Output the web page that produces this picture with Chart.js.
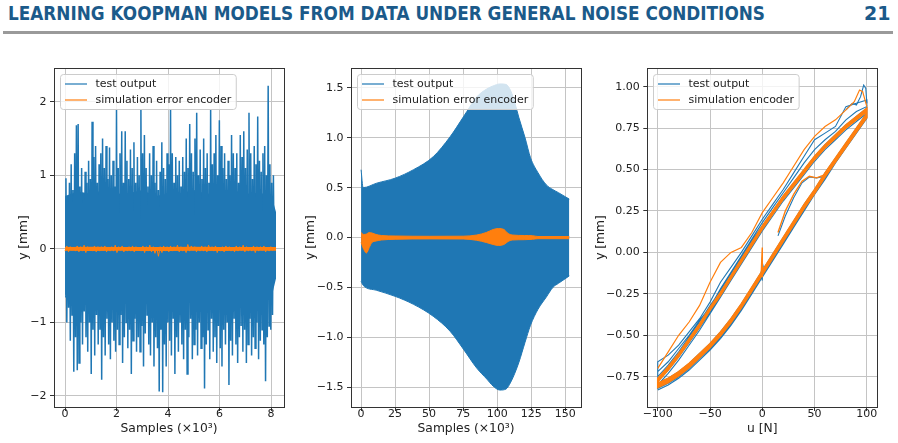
<!DOCTYPE html>
<html>
<head>
<meta charset="utf-8">
<script src="https://cdn.jsdelivr.net/npm/chart.js@4.4.0/dist/chart.umd.min.js"></script>
<style>
    html, body { margin: 0; padding: 0; background: #fff; }
    body { width: 898px; height: 443px; position: relative; overflow: hidden; }
    #head { position: absolute; left: 8px; top: 2px; font: bold 19px "DejaVu Sans", sans-serif; color: #1b5a8a; white-space: nowrap; transform-origin: 0 0; }
    #pageNo { position: absolute; left: 864px; top: 2px; font: bold 19px "DejaVu Sans", sans-serif; color: #1b5a8a; }
    #rule { position: absolute; left: 3px; top: 31px; width: 890px; height: 3px; background: #9a9a9a; }
    canvas { position: absolute; top: 50px; }
</style>
</head>
<body>
<div id="head">LEARNING KOOPMAN MODELS FROM DATA UNDER GENERAL NOISE CONDITIONS</div>
<div id="pageNo">21</div>
<div id="rule"></div>
<canvas id="c1" width="292" height="393" style="left:0px"></canvas>
<canvas id="c2" width="298" height="393" style="left:292px"></canvas>
<canvas id="c3" width="308" height="393" style="left:590px"></canvas>
<script>
// ---------- data: plot 1 (random excitation, samples x10^3) ----------
const p1Length = 8.19;
// dense part of the band (solid blue)
const p1CoreX = [0, 0.5, 1, 1.5, 2, 2.5, 3, 3.5, 4, 4.5, 5, 5.5, 6, 6.5, 7, 7.5, 8, 8.19];
const p1CoreUpper = [0.72, 0.78, 0.75, 0.8, 0.75, 0.76, 0.8, 0.72, 0.75, 0.76, 0.8, 0.75, 0.76, 0.8, 0.75, 0.76, 0.74, 0.5];
const p1CoreLower = [-0.62, -0.7, -0.68, -0.72, -0.68, -0.7, -0.68, -0.72, -0.69, -0.68, -0.72, -0.69, -0.7, -0.68, -0.72, -0.69, -0.68, -0.4];
// individual peaks sticking out of the band
const p1Upper = [
    0.96, 0.7, 0.9, 1.15, 0.8, 1.3, 1.68, 1.7, 0.85, 1.1,
    0.75, 1.05, 0.9, 1.2, 0.95, 1.73, 1.25, 1.4, 0.9, 1.15,
    1.3, 1.5, 1.1, 1.4, 0.95, 1.38, 1.0, 1.2, 0.85, 1.89,
    1.1, 1.3, 1.6, 0.9, 1.6, 1.2, 0.95, 1.35, 1.1, 1.45,
    0.9, 1.25, 1.0, 1.9, 1.3, 1.55, 1.1, 0.85, 1.3, 1.0,
    1.4, 0.9, 1.2, 0.8, 1.05, 1.45, 1.1, 0.95, 1.3, 1.15,
    1.9, 1.3, 0.9, 1.25, 1.0, 1.2, 0.85, 1.25, 1.05, 1.5,
    1.1, 1.7, 1.3, 1.05, 1.5, 1.85, 1.0, 1.35, 0.95, 1.5,
    1.1, 1.3, 0.9, 1.9, 1.15, 1.3, 1.55, 1.0, 1.75, 1.4,
    1.1, 1.3, 0.95, 1.2, 1.0, 1.55, 1.3, 1.1, 1.3, 0.9,
    1.55, 1.25, 1.6, 1.1, 1.35, 1.85, 1.3, 0.95, 1.4, 1.15,
    1.8, 1.2, 1.05, 1.3, 1.4, 1.0, 2.22, 1.15, 0.9, 1.0,
    0.5,
];
const p1Lower = [
    -0.65, -1.0, -0.8, -1.25, -0.9, -1.67, -1.2, -1.65, -1.55, -1.0,
    -1.3, -0.85, -1.2, -1.4, -1.0, -1.7, -1.1, -1.45, -0.9, -1.3,
    -1.1, -1.78, -1.2, -1.45, -0.95, -1.3, -1.5, -1.0, -1.25, -1.4,
    -1.1, -1.3, -0.9, -1.55, -1.2, -1.0, -1.35, -1.1, -1.7, -1.25,
    -0.95, -1.4, -1.2, -1.4, -1.05, -1.6, -1.15, -0.9, -1.3, -1.45,
    -1.0, -1.6, -1.2, -1.35, -1.94, -1.1, -1.95, -1.3, -1.6, -1.0,
    -1.25, -1.45, -0.95, -1.7, -1.2, -1.4, -1.0, -1.3, -1.5, -1.1,
    -1.7, -1.2, -0.95, -1.5, -1.3, -1.1, -1.45, -1.0, -1.35, -1.2,
    -1.9, -1.3, -1.1, -1.5, -0.95, -1.4, -1.2, -1.55, -1.05, -1.35,
    -1.6, -1.1, -1.3, -1.0, -1.85, -1.25, -1.45, -0.95, -1.3, -1.55,
    -1.2, -1.05, -1.4, -1.1, -1.55, -1.3, -0.95, -1.45, -1.2, -1.35,
    -1.0, -1.5, -1.25, -1.1, -1.3, -1.8, -1.2, -1.05, -1.1, -0.9,
    -0.4,
];
// encoder error: solid core plus small excursions
const p1ErrCoreX = [0, 1, 2, 3, 4, 5, 6, 7, 8.19];
const p1ErrCoreUpper = [0.025, 0.028, 0.025, 0.027, 0.025, 0.028, 0.026, 0.027, 0.025];
const p1ErrCoreLower = [-0.025, -0.027, -0.026, -0.027, -0.028, -0.026, -0.027, -0.026, -0.025];
const p1ErrUpper = [
    0.04, 0.03, 0.02, 0.04, 0.03, 0.05, 0.03, 0.02, 0.04, 0.03,
    0.03, 0.04, 0.02, 0.03, 0.05, 0.03, 0.04, 0.02, 0.03, 0.04,
    0.03, 0.02, 0.04, 0.03, 0.05, 0.03, 0.02, 0.03, 0.04, 0.03,
    0.04, 0.03, 0.05, 0.03, 0.02, 0.06, 0.04, 0.03, 0.02, 0.04,
    0.03, 0.05, 0.03, 0.04, 0.02, 0.03, 0.04, 0.03, 0.02, 0.04,
    0.03, 0.05, 0.03, 0.02, 0.04, 0.03, 0.03, 0.04, 0.02, 0.03,
    0.02,
];
const p1ErrLower = [
    -0.03, -0.04, -0.02, -0.03, -0.04, -0.03, -0.05, -0.02, -0.03, -0.04,
    -0.03, -0.02, -0.04, -0.03, -0.03, -0.05, -0.02, -0.04, -0.03, -0.03,
    -0.04, -0.02, -0.03, -0.05, -0.03, -0.04, -0.06, -0.1, -0.05, -0.03,
    -0.04, -0.03, -0.02, -0.04, -0.03, -0.05, -0.03, -0.02, -0.04, -0.03,
    -0.03, -0.04, -0.02, -0.03, -0.05, -0.03, -0.04, -0.02, -0.03, -0.04,
    -0.03, -0.02, -0.04, -0.03, -0.03, -0.05, -0.03, -0.02, -0.04, -0.03,
    -0.02,
];
const p1XTicks = [0, 2, 4, 6, 8];
const p1XLabels = ["0", "2", "4", "6", "8"];
const p1YTicks = [-2, -1, 0, 1, 2];
const p1YLabels = ["\u22122", "\u22121", "0", "1", "2"];

// ---------- data: plot 2 (sine sweep, envelopes) ----------
const p2EnvX = [0, 1.5, 11.5, 25, 38.5, 53, 65.4, 75.2, 85, 92.4, 97, 102, 106.5, 110, 113, 116, 120.5, 124.5, 130, 136, 141, 145, 153];
const p2Upper = [0.68, 0.5, 0.545, 0.595, 0.68, 0.81, 1.01, 1.21, 1.41, 1.49, 1.52, 1.54, 1.535, 1.47, 1.35, 1.2, 1.0, 0.8, 0.65, 0.53, 0.48, 0.45, 0.385];
const p2Lower = [-0.44, -0.48, -0.53, -0.59, -0.67, -0.79, -0.94, -1.12, -1.31, -1.42, -1.49, -1.53, -1.52, -1.45, -1.36, -1.25, -1.05, -0.88, -0.72, -0.6, -0.5, -0.46, -0.385];
const p2ErrX = [0, 2, 4, 6, 8, 11, 15, 25, 50, 75, 85, 92, 97, 101, 105, 108, 111, 120, 126, 130, 153];
const p2ErrUpper = [0.05, 0.03, 0.035, 0.05, 0.045, 0.03, 0.02, 0.015, 0.012, 0.013, 0.025, 0.05, 0.08, 0.09, 0.08, 0.04, 0.025, 0.02, 0.018, 0.01, 0.01];
const p2ErrLower = [-0.05, -0.12, -0.155, -0.1, -0.05, -0.035, -0.025, -0.018, -0.014, -0.015, -0.028, -0.05, -0.07, -0.08, -0.07, -0.04, -0.025, -0.022, -0.018, -0.012, -0.012];
const p2XTicks = [0, 25, 50, 75, 100, 125, 150];
const p2XLabels = ["0", "25", "50", "75", "100", "125", "150"];
const p2YTicks = [-1.5, -1, -0.5, 0, 0.5, 1, 1.5];
const p2YLabels = ["\u22121.5", "\u22121.0", "\u22120.5", "0.0", "0.5", "1.0", "1.5"];

// ---------- data: plot 3 (hysteresis u -> y) ----------
const uGrid = [-100, -90, -80, -70, -60, -50, -40, -30, -20, -10, 0, 10, 20, 30, 40, 50, 60, 70, 80, 90, 100];
// each loop: [rising branch, falling branch] on uGrid
const blueLoops = [
    [
        [-0.83, -0.8, -0.76, -0.71, -0.65, -0.59, -0.52, -0.44, -0.35, -0.25, -0.15, -0.05, 0.05, 0.15, 0.25, 0.35, 0.44, 0.54, 0.63, 0.72, 0.81],
        [-0.8, -0.73, -0.65, -0.56, -0.47, -0.37, -0.27, -0.17, -0.07, 0.03, 0.13, 0.22, 0.31, 0.39, 0.47, 0.55, 0.62, 0.68, 0.74, 0.79, 0.84],
    ],
    [
        [-0.79, -0.76, -0.72, -0.67, -0.61, -0.55, -0.48, -0.4, -0.31, -0.21, -0.11, -0.01, 0.09, 0.19, 0.29, 0.38, 0.48, 0.57, 0.66, 0.75, 0.84],
        [-0.75, -0.68, -0.6, -0.51, -0.42, -0.32, -0.23, -0.13, -0.03, 0.07, 0.16, 0.25, 0.34, 0.42, 0.5, 0.58, 0.65, 0.71, 0.77, 0.82, 0.87],
    ],
    [
        [-0.81, -0.78, -0.74, -0.69, -0.63, -0.57, -0.5, -0.42, -0.33, -0.23, -0.13, -0.03, 0.07, 0.17, 0.27, 0.36, 0.46, 0.55, 0.64, 0.73, 0.82],
        [-0.66, -0.62, -0.56, -0.48, -0.4, -0.3, -0.18, -0.09, 0.0, 0.1, 0.2, 0.29, 0.38, 0.48, 0.58, 0.68, 0.72, 0.76, 0.88, 0.9, 0.92],
    ],
    [
        [-0.82, -0.79, -0.75, -0.7, -0.64, -0.58, -0.51, -0.43, -0.34, -0.24, -0.14, -0.04, 0.06, 0.16, 0.26, 0.355, 0.45, 0.545, 0.635, 0.725, 0.815],
        [-0.78, -0.71, -0.63, -0.545, -0.455, -0.36, -0.26, -0.16, -0.06, 0.04, 0.14, 0.235, 0.325, 0.405, 0.485, 0.565, 0.635, 0.695, 0.755, 0.805, 0.855],
    ],
    [
        [-0.8, -0.77, -0.73, -0.685, -0.625, -0.565, -0.495, -0.415, -0.325, -0.225, -0.125, -0.025, 0.075, 0.175, 0.275, 0.365, 0.465, 0.555, 0.645, 0.735, 0.825],
        [-0.72, -0.66, -0.58, -0.5, -0.41, -0.33, -0.22, -0.12, -0.02, 0.08, 0.18, 0.27, 0.36, 0.45, 0.54, 0.62, 0.68, 0.73, 0.8, 0.85, 0.88],
    ],
];
const orangeLoops = [
    [
        [-0.81, -0.78, -0.74, -0.69, -0.63, -0.57, -0.5, -0.42, -0.33, -0.23, -0.13, -0.03, 0.07, 0.17, 0.27, 0.36, 0.46, 0.55, 0.64, 0.73, 0.82],
        [-0.78, -0.71, -0.63, -0.54, -0.45, -0.35, -0.26, -0.16, -0.06, 0.04, 0.14, 0.23, 0.32, 0.4, 0.48, 0.56, 0.63, 0.69, 0.75, 0.8, 0.85],
    ],
    [
        [-0.8, -0.77, -0.73, -0.68, -0.62, -0.56, -0.49, -0.41, -0.32, -0.22, -0.12, -0.02, 0.08, 0.18, 0.28, 0.37, 0.47, 0.56, 0.65, 0.74, 0.83],
        [-0.77, -0.7, -0.62, -0.53, -0.44, -0.34, -0.25, -0.15, -0.05, 0.05, 0.15, 0.24, 0.33, 0.41, 0.49, 0.57, 0.64, 0.7, 0.76, 0.81, 0.86],
    ],
    [
        [-0.79, -0.76, -0.72, -0.67, -0.61, -0.55, -0.48, -0.4, -0.31, -0.21, -0.11, -0.01, 0.09, 0.19, 0.29, 0.38, 0.48, 0.57, 0.66, 0.75, 0.84],
        [-0.76, -0.69, -0.61, -0.52, -0.43, -0.33, -0.24, -0.14, -0.04, 0.06, 0.16, 0.25, 0.34, 0.42, 0.5, 0.58, 0.65, 0.71, 0.77, 0.82, 0.87],
    ],
    [
        [-0.815, -0.785, -0.745, -0.695, -0.635, -0.575, -0.505, -0.425, -0.335, -0.235, -0.135, -0.035, 0.065, 0.165, 0.265, 0.355, 0.455, 0.545, 0.635, 0.725, 0.815],
        [-0.775, -0.705, -0.625, -0.535, -0.445, -0.345, -0.255, -0.155, -0.055, 0.045, 0.145, 0.235, 0.325, 0.405, 0.485, 0.565, 0.635, 0.695, 0.755, 0.805, 0.855],
    ],
    [
        [-0.8, -0.765, -0.725, -0.675, -0.615, -0.555, -0.485, -0.405, -0.315, -0.215, -0.115, -0.015, 0.085, 0.185, 0.285, 0.375, 0.475, 0.565, 0.655, 0.745, 0.835],
        [-0.765, -0.695, -0.615, -0.525, -0.435, -0.335, -0.245, -0.145, -0.045, 0.055, 0.155, 0.245, 0.335, 0.415, 0.495, 0.575, 0.645, 0.705, 0.765, 0.815, 0.865],
    ],
];
const blueOutlierU = [80, 86, 90, 94, 97, 99, 100];
const blueOutlierY = [0.86, 0.9, 0.89, 0.94, 1.01, 0.99, 0.9];
const orangeOutlierU = [-100, -90, -80, -70, -60, -50, -40, -30, -20, -10, 0, 10, 20, 30, 40, 50, 60, 70, 80, 88, 93, 96, 100];
const orangeOutlierY = [-0.7, -0.6, -0.5, -0.42, -0.32, -0.18, -0.06, 0.0, 0.03, 0.12, 0.24, 0.33, 0.42, 0.52, 0.62, 0.7, 0.76, 0.8, 0.86, 0.91, 0.98, 0.97, 0.88];
const minorLoopU = [15, 22, 30, 38, 45, 52, 60];
const blueMinorY = [0.1, 0.22, 0.33, 0.42, 0.455, 0.45, 0.46];
const orangeMinorY = [0.12, 0.25, 0.35, 0.43, 0.46, 0.45, 0.47];
const spikeU = [-1, 0, 0, 1];
const blueSpikeY = [-0.11, -0.17, -0.06, -0.09];
const orangeSpikeY = [-0.12, 0.03, -0.15, -0.09];
const p3XTicks = [-100, -50, 0, 50, 100];
const p3XLabels = ["\u2212100", "\u221250", "0", "50", "100"];
const p3YTicks = [-0.75, -0.5, -0.25, 0, 0.25, 0.5, 0.75, 1];
const p3YLabels = ["\u22120.75", "\u22120.50", "\u22120.25", "0.00", "0.25", "0.50", "0.75", "1.00"];

// ---------- helpers ----------
const BLUE = "#1f77b4";
const ORANGE = "#ff7f0e";
const FONT = "DejaVu Sans";

function header() {
    const head = document.getElementById("head");
    const w = head.getBoundingClientRect().width;
    head.style.transform = "scaleX(" + 757 / w + ")";
}
header();

function zigzag(lower, upper, length) {
    const dx = length / upper.length;
    const pts = [];
    lower.forEach((v, i) => {
        pts.push({ x: i * dx, y: v });
        pts.push({ x: (i + 0.5) * dx, y: upper[i] });
    });
    return pts;
}

function pairs(xs, ys) {
    return xs.map((x, i) => ({ x: x, y: ys[i] }));
}

function loopPoints(loops) {
    const pts = [];
    loops.forEach(([lo, up]) => {
        uGrid.forEach((u, i) => pts.push({ x: u, y: lo[i] }));
        for (let i = uGrid.length - 1; i >= 0; i--) pts.push({ x: uGrid[i], y: up[i] });
    });
    return pts;
}

// frame + matplotlib style legend
const mplPlugin = {
    id: "mpl",
    afterDatasetsDraw(chart) {
        const { ctx, chartArea: a } = chart;
        ctx.save();
        ctx.strokeStyle = "#333";
        ctx.lineWidth = 1;
        ctx.strokeRect(Math.round(a.left) + 0.5, Math.round(a.top) + 0.5, Math.round(a.right - a.left), Math.round(a.bottom - a.top));
        ctx.restore();
    },
    afterDraw(chart, args, opts) {
        const { ctx, chartArea: a } = chart;
        ctx.save();
        ctx.font = "11px '" + FONT + "'";
        const tw = Math.max(...opts.entries.map((e) => ctx.measureText(e.label).width));
        const x0 = Math.round(a.left + 5.5) + 0.5;
        const y0 = Math.round(a.top + 6) + 0.5;
        const w = 35 + tw + 5;
        const h = 35;
        ctx.beginPath();
        ctx.roundRect(x0, y0, w, h, 3);
        ctx.fillStyle = "rgba(255,255,255,0.8)";
        ctx.fill();
        ctx.strokeStyle = "#cccccc";
        ctx.lineWidth = 1;
        ctx.stroke();
        opts.entries.forEach((e, i) => {
            const y = y0 + 9.5 + i * 16;
            ctx.beginPath();
            ctx.moveTo(x0 + 4.5, y);
            ctx.lineTo(x0 + 26.5, y);
            ctx.strokeStyle = e.color;
            ctx.lineWidth = 1.2;
            ctx.stroke();
            ctx.fillStyle = "#222";
            ctx.textBaseline = "middle";
            ctx.fillText(e.label, x0 + 35, y + 0.5);
        });
        ctx.restore();
    },
};

function axis(min, max, ticks, labels, title, size, isX) {
    return {
        type: "linear",
        min: min,
        max: max,
        afterBuildTicks: (s) => {
            s.ticks = ticks.map((v) => ({ value: v }));
        },
        afterFit: (s) => {
            if (isX) s.height = size;
            else s.width = size;
        },
        border: { display: false },
        grid: {
            color: "#c4c4c4",
            lineWidth: 1,
            tickColor: "#333",
            tickLength: 4,
        },
        ticks: {
            autoSkip: false,
            maxRotation: 0,
            padding: isX ? -2 : 3.5,
            color: "#222",
            font: { size: 11, family: FONT, lineHeight: 1 },
            callback: (v, i) => labels[i],
        },
        title: {
            display: true,
            text: title,
            color: "#222",
            padding: 0,
            font: { size: 12.3, family: FONT },
        },
    };
}

function makeChart(id, datasets, entries, pad, yWidth, xRange, yRange, xTicks, xLabels, yTicks, yLabels, xTitle) {
    return new Chart(document.getElementById(id), {
        type: "scatter",
        data: { datasets: datasets },
        options: {
            responsive: false,
            animation: false,
            devicePixelRatio: 1,
            layout: { padding: pad },
            plugins: {
                legend: { display: false },
                tooltip: { enabled: false },
                mpl: { entries: entries },
            },
            scales: {
                x: axis(xRange[0], xRange[1], xTicks, xLabels, xTitle, 29.2, true),
                y: axis(yRange[0], yRange[1], yTicks, yLabels, "y [mm]", yWidth, false),
            },
        },
        plugins: [mplPlugin],
    });
}

function line(data, color, order, extra) {
    return Object.assign(
        {
            data: data,
            showLine: true,
            borderColor: color,
            backgroundColor: color,
            borderWidth: 1,
            pointRadius: 0,
            tension: 0,
            fill: false,
            order: order,
        },
        extra || {},
    );
}

// ---------- plot 1 ----------
makeChart(
    "c1",
    [
        line(pairs(p1CoreX, p1CoreUpper), BLUE, 3, { borderWidth: 0 }),
        line(pairs(p1CoreX, p1CoreLower), BLUE, 3, { borderWidth: 0, fill: "-1" }),
        line(zigzag(p1Lower, p1Upper, p1Length), BLUE, 2, { borderWidth: 1.5 }),
        line(pairs(p1ErrCoreX, p1ErrCoreUpper), ORANGE, 1, { borderWidth: 0 }),
        line(pairs(p1ErrCoreX, p1ErrCoreLower), ORANGE, 1, { borderWidth: 0, fill: "-1" }),
        line(zigzag(p1ErrLower, p1ErrUpper, p1Length), ORANGE, 1, { borderWidth: 1 }),
    ],
    [
        { label: "test output", color: BLUE },
        { label: "simulation error encoder", color: ORANGE },
    ],
    { left: 16.8, top: 18, right: 8, bottom: 6.8 },
    37.2,
    [-0.43, 8.5],
    [-2.15, 2.46],
    p1XTicks, p1XLabels, p1YTicks, p1YLabels,
    "Samples (\u00d710\u00b3)",
);

// ---------- plot 2 ----------
makeChart(
    "c2",
    [
        line(pairs(p2EnvX, p2Upper), BLUE, 2, { cubicInterpolationMode: "monotone" }),
        line(pairs(p2EnvX, p2Lower), BLUE, 2, { cubicInterpolationMode: "monotone", fill: "-1" }),
        line(pairs(p2ErrX, p2ErrUpper), ORANGE, 1, { cubicInterpolationMode: "monotone" }),
        line(pairs(p2ErrX, p2ErrLower), ORANGE, 1, { cubicInterpolationMode: "monotone", fill: "-1" }),
    ],
    [
        { label: "test output", color: BLUE },
        { label: "simulation error encoder", color: ORANGE },
    ],
    { left: 11.8, top: 18, right: 9, bottom: 6.8 },
    47.2,
    [-7.4, 161.6],
    [-1.7, 1.7],
    p2XTicks, p2XLabels, p2YTicks, p2YLabels,
    "Samples (\u00d710\u00b3)",
);

// ---------- plot 3 ----------
makeChart(
    "c3",
    [
        line(loopPoints(blueLoops), BLUE, 2, { borderWidth: 1.1 }),
        line(pairs(blueOutlierU, blueOutlierY), BLUE, 2, { borderWidth: 1.1 }),
        line(pairs(minorLoopU, blueMinorY), BLUE, 2, { borderWidth: 1.1 }),
        line(pairs(spikeU, blueSpikeY), BLUE, 2, { borderWidth: 1.1 }),
        line(loopPoints(orangeLoops), ORANGE, 1, { borderWidth: 1.6 }),
        line(pairs(orangeOutlierU, orangeOutlierY), ORANGE, 1, { borderWidth: 1.2 }),
        line(pairs(minorLoopU, orangeMinorY), ORANGE, 1, { borderWidth: 1.4 }),
        line(pairs(spikeU, orangeSpikeY), ORANGE, 1, { borderWidth: 1.4 }),
    ],
    [
        { label: "test output", color: BLUE },
        { label: "simulation encoder", color: ORANGE },
    ],
    { left: 3.8, top: 18, right: 20.7, bottom: 6.8 },
    53.5,
    [-110, 110],
    [-0.933, 1.113],
    p3XTicks, p3XLabels, p3YTicks, p3YLabels,
    "u [N]",
);
</script>
</body>
</html>
